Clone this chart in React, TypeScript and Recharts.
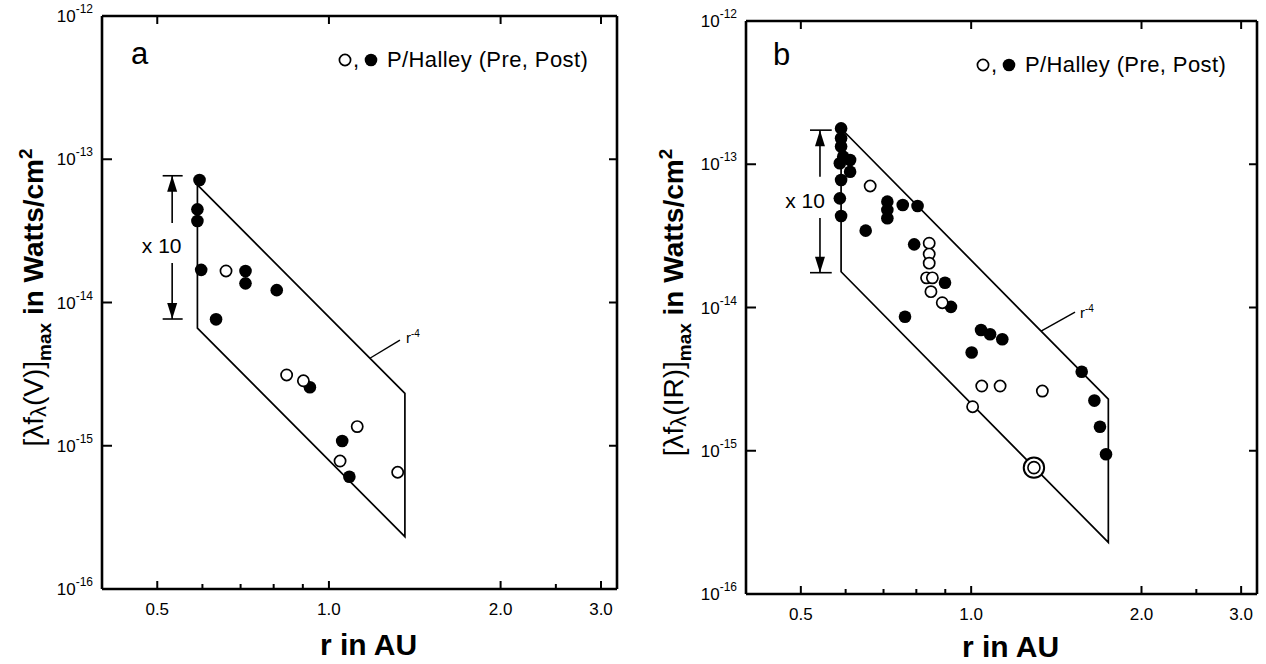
import React from 'react';
import {
  ScatterChart,
  Scatter,
  XAxis,
  YAxis,
  ReferenceLine,
  Legend,
  Label,
} from 'recharts';

const FONT = '"Liberation Sans", Arial, Helvetica, sans-serif';

// Shared log axes: heliocentric distance (AU) and peak flux (W/cm^2)
const R_DOMAIN = [0.4, 3.2];
const F_DOMAIN = [1e-16, 1e-12];
const R_TICKS = [0.5, 0.6, 0.7, 0.8, 0.9, 1.0, 2.0, 2.5, 3.0];
const R_LABELLED = [0.5, 1.0, 2.0, 3.0];
const F_TICKS = [1e-16, 1e-15, 1e-14, 1e-13, 1e-12];

// ---- Panel a: visual band ----
const visPreR = [0.66, 0.843, 0.902, 1.121, 1.046, 1.32];
const visPreF = [1.66e-14, 3.12e-15, 2.84e-15, 1.36e-15, 7.82e-16, 6.53e-16];
const visPostR = [0.593, 0.588, 0.588, 0.597, 0.634, 0.714, 0.714, 0.81, 0.926, 1.055, 1.086];
const visPostF = [7.16e-14, 4.47e-14, 3.71e-14, 1.69e-14, 7.63e-15, 1.66e-14, 1.36e-14, 1.22e-14, 2.56e-15, 1.08e-15, 6.08e-16];
// r^-4 envelope (one decade wide), corners in order
const visBoxR = [0.588, 1.359, 1.359, 0.588, 0.588];
const visBoxF = [6.62e-14, 2.32e-15, 2.32e-16, 6.62e-15, 6.62e-14];
// "x 10" bracket: shaft r, bar ends, text r / top, bottom, gap top, gap bottom, text f
const visArrowR = [0.531, 0.511, 0.554, 0.509];
const visArrowF = [7.67e-14, 7.67e-15, 3.59e-14, 1.89e-14, 2.52e-14];
// "r^-4" leader: start, end, text anchor
const visSlopeR = [1.18, 1.332, 1.365];
const visSlopeF = [4.08e-15, 5.47e-15, 5.21e-15];

// ---- Panel b: infrared band ----
const irPreR = [0.663, 0.843, 0.843, 0.843, 0.834, 0.854, 0.849, 0.889, 1.044, 1.125, 1.336, 1.006];
const irPreF = [7.05e-14, 2.81e-14, 2.36e-14, 2.04e-14, 1.61e-14, 1.61e-14, 1.29e-14, 1.08e-14, 2.83e-15, 2.83e-15, 2.61e-15, 2.03e-15];
const irPairR = [1.291];
const irPairF = [7.62e-16];
const irPostR = [
  0.589, 0.589, 0.589, 0.594, 0.611, 0.586, 0.611, 0.589, 0.586, 0.589,
  0.711, 0.711, 0.711, 0.757, 0.804, 0.651, 0.793, 0.899, 0.921, 0.764,
  1.041, 1.08, 1.135, 1.002, 1.568, 1.651, 1.689, 1.731,
];
const irPostF = [
  1.78e-13, 1.52e-13, 1.33e-13, 1.13e-13, 1.07e-13, 1.015e-13, 8.87e-14, 7.76e-14, 5.78e-14, 4.35e-14,
  5.48e-14, 4.8e-14, 4.2e-14, 5.19e-14, 5.11e-14, 3.44e-14, 2.76e-14, 1.49e-14, 1.01e-14, 8.62e-15,
  6.97e-15, 6.5e-15, 6.0e-15, 4.85e-15, 3.56e-15, 2.24e-15, 1.47e-15, 9.45e-16,
];
const irBoxR = [0.589, 1.7475, 1.7475, 0.589, 0.589];
const irBoxF = [1.777e-13, 2.29e-15, 2.29e-16, 1.777e-14, 1.777e-13];
const irArrowR = [0.5405, 0.519, 0.567, 0.5085];
const irArrowF = [1.73e-13, 1.75e-14, 8.19e-14, 4.21e-14, 5.63e-14];
const irSlopeR = [1.329, 1.526, 1.557];
const irSlopeF = [6.85e-15, 9.3e-15, 8.45e-15];

const zip = (rs: number[], fs: number[]) => rs.map((r, i) => ({ r, f: fs[i] }));

type Pt = { r: number; f: number };
type Panel = {
  letter: string;
  band: string;
  pre: Pt[];
  post: Pt[];
  pair: Pt[];
  box: Pt[];
  arrowR: number[];
  arrowF: number[];
  slopeR: number[];
  slopeF: number[];
  left: number;
  top: number;
  right: number;
  yAxisW: number;
  xAxisH: number;
  plotW: number;
  plotH: number;
  yTitleX: number;
  xTitleDx: number;
  xTitleDy: number;
  letterY: number;
  keyX: number;
};

const CHART_W = 633;
const CHART_H = 664;

const panels: Panel[] = [
  {
    letter: 'a', band: 'V',
    pre: zip(visPreR, visPreF), post: zip(visPostR, visPostF), pair: [],
    box: zip(visBoxR, visBoxF),
    arrowR: visArrowR, arrowF: visArrowF, slopeR: visSlopeR, slopeF: visSlopeF,
    left: 0, top: 16, right: 16, yAxisW: 102, xAxisH: 75, plotW: 515, plotH: 573,
    yTitleX: 43, xTitleDx: 9, xTitleDy: 66, letterY: 47.5, keyX: 243,
  },
  {
    letter: 'b', band: 'IR',
    pre: zip(irPreR, irPreF), post: zip(irPostR, irPostF), pair: zip(irPairR, irPairF),
    box: zip(irBoxR, irBoxF),
    arrowR: irArrowR, arrowF: irArrowF, slopeR: irSlopeR, slopeF: irSlopeF,
    left: 633, top: 21, right: 9, yAxisW: 113, xAxisH: 70, plotW: 511, plotH: 573,
    yTitleX: 50, xTitleDx: 9, xTitleDy: 63, letterY: 44, keyX: 237,
  },
];

// ---- marker shapes ----
const FilledDot = (p: any) => <circle cx={p.cx} cy={p.cy} r={6.3} fill="#000" />;
const OpenDot = (p: any) => (
  <circle cx={p.cx} cy={p.cy} r={5.6} fill="#fff" stroke="#000" strokeWidth={1.7} />
);
const PairDot = (p: any) => (
  <g>
    <circle cx={p.cx} cy={p.cy} r={10.2} fill="#fff" stroke="#000" strokeWidth={2} />
    <circle cx={p.cx} cy={p.cy} r={6} fill="#fff" stroke="#000" strokeWidth={1.6} />
  </g>
);
const NoMarker = () => <g />;
const ArrowHead = (p: any) => {
  const s = p.payload.dir === 'up' ? 1 : -1;
  return (
    <path
      d={`M${p.cx},${p.cy} L${p.cx - 5},${p.cy + s * 16} L${p.cx + 5},${p.cy + s * 16} Z`}
      fill="#000"
    />
  );
};
const TimesTen = (p: any) => (
  <text x={p.cx} y={p.cy + 8} textAnchor="middle" fontFamily={FONT} fontSize={21} fill="#000">
    x 10
  </text>
);
const SlopeText = (p: any) => (
  <text x={p.cx} y={p.cy} fontFamily={FONT} fontSize={15} fill="#000">
    r<tspan fontSize={10} dy={-6}>-4</tspan>
  </text>
);

// ---- axis ticks (drawn inward, mirrored on the opposite frame side) ----
const makeXTick = (plotH: number) => (p: any) => {
  const v = p.payload.value;
  const major = R_LABELLED.some((m) => Math.abs(m - v) < 1e-9);
  const len = major ? 8 : 5;
  return (
    <g>
      <line x1={p.x} x2={p.x} y1={p.y} y2={p.y - len} stroke="#000" strokeWidth={2} />
      {major && (
        <line x1={p.x} x2={p.x} y1={p.y - plotH} y2={p.y - plotH + len} stroke="#000" strokeWidth={2} />
      )}
      {major && (
        <text x={p.x} y={p.y + 26} textAnchor="middle" fontFamily={FONT} fontSize={17} fill="#000">
          {v.toFixed(1)}
        </text>
      )}
    </g>
  );
};

const makeYTick = (plotW: number) => (p: any) => {
  const v = p.payload.value;
  const exp = Math.round(Math.log10(v));
  const inner = exp > -16 && exp < -12;
  return (
    <g>
      {inner && <line x1={p.x} x2={p.x + 10} y1={p.y} y2={p.y} stroke="#000" strokeWidth={2} />}
      {inner && (
        <line x1={p.x + plotW} x2={p.x + plotW - 8} y1={p.y} y2={p.y} stroke="#000" strokeWidth={2} />
      )}
      <text x={p.x - 9} y={p.y + 6} textAnchor="end" fontFamily={FONT} fontSize={17} fill="#000">
        10<tspan fontSize={12} dy={-9}>{String(exp)}</tspan>
      </text>
    </g>
  );
};

const makeYTitle = (band: string, x: number) => (p: any) => {
  const vb = p.viewBox;
  const cy = vb.y + vb.height / 2 - 5;
  return (
    <text
      transform={`translate(${x},${cy}) rotate(-90)`}
      textAnchor="middle"
      fontFamily={FONT}
      fontSize={28}
      fontWeight="bold"
      fill="#000"
    >
      <tspan fontWeight="normal">[λf</tspan>
      <tspan fontWeight="normal" fontSize={22} dy={3}>λ</tspan>
      <tspan fontWeight="normal" dy={-3}>({band})]</tspan>
      <tspan fontSize={19} dy={8}>max</tspan>
      <tspan dy={-8}>{'\u00a0in Watts/cm'}</tspan>
      <tspan fontSize={19} dy={-11}>2</tspan>
    </text>
  );
};

const makeXTitle = (dx: number, dy: number) => (p: any) => {
  const vb = p.viewBox;
  return (
    <text
      x={vb.x + vb.width / 2 + dx}
      y={vb.y + dy}
      textAnchor="middle"
      fontFamily={FONT}
      fontSize={30}
      fontWeight="bold"
      fill="#000"
    >
      r in AU
    </text>
  );
};

const makeKey = (letter: string, letterY: number, keyX: number, plotW: number) => () => (
  <svg width={plotW} height={70} style={{ display: 'block', overflow: 'visible' }}>
    <text x={29 - (letter === 'b' ? 2 : 0)} y={letterY} fontFamily={FONT} fontSize={31} fill="#000">
      {letter}
    </text>
    <circle cx={keyX} cy={44} r={5.6} fill="#fff" stroke="#000" strokeWidth={1.7} />
    <text x={keyX + 8} y={51} fontFamily={FONT} fontSize={22} fill="#000">,</text>
    <circle cx={keyX + 26} cy={44} r={6.3} fill="#000" />
    <text x={keyX + 42} y={51} fontFamily={FONT} fontSize={22} letterSpacing={0.4} fill="#000">
      P/Halley (Pre, Post)
    </text>
  </svg>
);

function FluxPanel({ cfg }: { cfg: Panel }) {
  const [rA, rBarL, rBarR, rText] = cfg.arrowR;
  const [fTop, fBot, fGapTop, fGapBot, fText] = cfg.arrowF;
  const heads = [
    { r: rA, f: fTop, dir: 'up' },
    { r: rA, f: fBot, dir: 'down' },
  ];
  const thin = { stroke: '#000', strokeWidth: 1.6, ifOverflow: 'visible' as const };
  const frame = { stroke: '#000', strokeWidth: 2.6, ifOverflow: 'visible' as const };
  return (
    <div style={{ position: 'absolute', left: cfg.left, top: 0 }}>
      <ScatterChart
        width={CHART_W}
        height={CHART_H}
        margin={{ top: cfg.top, right: cfg.right, bottom: 0, left: 0 }}
      >
        <XAxis
          type="number"
          dataKey="r"
          scale="log"
          domain={R_DOMAIN}
          ticks={R_TICKS}
          interval={0}
          allowDataOverflow
          axisLine={false}
          tickLine={false}
          tickSize={0}
          tickMargin={0}
          height={cfg.xAxisH}
          tick={makeXTick(cfg.plotH)}
          label={<Label content={makeXTitle(cfg.xTitleDx, cfg.xTitleDy)} />}
        />
        <YAxis
          type="number"
          dataKey="f"
          scale="log"
          domain={F_DOMAIN}
          ticks={F_TICKS}
          interval={0}
          allowDataOverflow
          axisLine={false}
          tickLine={false}
          tickSize={0}
          tickMargin={0}
          width={cfg.yAxisW}
          tick={makeYTick(cfg.plotW)}
          label={<Label content={makeYTitle(cfg.band, cfg.yTitleX)} />}
        />
        {/* plot frame */}
        <ReferenceLine x={R_DOMAIN[0]} {...frame} />
        <ReferenceLine x={R_DOMAIN[1]} {...frame} />
        <ReferenceLine y={F_DOMAIN[0]} {...frame} />
        <ReferenceLine y={F_DOMAIN[1]} {...frame} />
        {/* x 10 bracket */}
        <ReferenceLine segment={[{ x: rA, y: fTop }, { x: rA, y: fGapTop }]} {...thin} />
        <ReferenceLine segment={[{ x: rA, y: fGapBot }, { x: rA, y: fBot }]} {...thin} />
        <ReferenceLine segment={[{ x: rBarL, y: fTop }, { x: rBarR, y: fTop }]} {...thin} />
        <ReferenceLine segment={[{ x: rBarL, y: fBot }, { x: rBarR, y: fBot }]} {...thin} />
        {/* r^-4 leader */}
        <ReferenceLine
          segment={[{ x: cfg.slopeR[0], y: cfg.slopeF[0] }, { x: cfg.slopeR[1], y: cfg.slopeF[1] }]}
          stroke="#000"
          strokeWidth={1.4}
          ifOverflow="visible"
        />
        <Scatter
          name="envelope"
          data={cfg.box}
          line={{ stroke: '#000', strokeWidth: 1.7 }}
          lineType="joint"
          shape={NoMarker}
          legendType="none"
          isAnimationActive={false}
        />
        <Scatter data={heads} shape={ArrowHead} legendType="none" isAnimationActive={false} />
        <Scatter data={[{ r: rText, f: fText }]} shape={TimesTen} legendType="none" isAnimationActive={false} />
        <Scatter
          data={[{ r: cfg.slopeR[2], f: cfg.slopeF[2] }]}
          shape={SlopeText}
          legendType="none"
          isAnimationActive={false}
        />
        <Scatter name="Post" data={cfg.post} shape={FilledDot} isAnimationActive={false} />
        <Scatter name="Pre" data={cfg.pre} shape={OpenDot} isAnimationActive={false} />
        {cfg.pair.length > 0 && (
          <Scatter name="Pre (two)" data={cfg.pair} shape={PairDot} isAnimationActive={false} />
        )}
        <Legend
          layout="horizontal"
          verticalAlign="middle"
          align="center"
          content={makeKey(cfg.letter, cfg.letterY, cfg.keyX, cfg.plotW)}
          wrapperStyle={{ left: cfg.yAxisW, top: cfg.top, width: cfg.plotW, height: 70 }}
        />
      </ScatterChart>
    </div>
  );
}

export default function App() {
  return (
    <div
      style={{
        position: 'fixed',
        left: 0,
        top: 0,
        width: 1266,
        height: 664,
        background: '#fff',
        overflow: 'hidden',
      }}
    >
      {panels.map((p) => (
        <FluxPanel key={p.letter} cfg={p} />
      ))}
    </div>
  );
}
